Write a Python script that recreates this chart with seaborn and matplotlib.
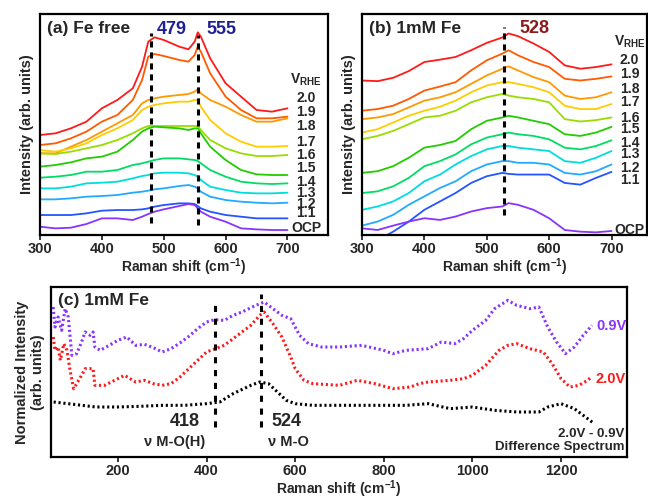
import matplotlib
matplotlib.use("Agg")
import matplotlib.pyplot as plt
import seaborn as sns

# ---- panel (a) Fe free : offset spectra (arb. units)
x_a = [300, 325, 350, 375, 400, 425, 450, 465, 475, 485, 500, 525, 540, 550, 555, 560, 575, 600, 625, 650, 675, 700]
a_20 = [300, 305, 320, 340, 380, 405, 440, 505, 580, 593, 585, 565, 557, 580, 608, 595, 530, 455, 415, 375, 370, 380]
a_19 = [270, 275, 290, 310, 340, 360, 405, 465, 535, 543, 537, 525, 520, 540, 565, 550, 485, 415, 375, 350, 350, 355]
a_18 = [245, 245, 265, 285, 310, 335, 360, 395, 405, 410, 415, 420, 423, 430, 437, 425, 405, 385, 360, 340, 340, 350]
a_17 = [255, 250, 260, 275, 300, 320, 345, 375, 385, 390, 395, 400, 400, 405, 405, 385, 345, 305, 280, 265, 265, 267]
a_16 = [245, 243, 250, 260, 270, 285, 305, 320, 327, 327, 327, 327, 327, 327, 327, 315, 285, 260, 245, 237, 237, 240]
a_15 = [205, 210, 218, 230, 235, 250, 285, 310, 320, 325, 323, 320, 315, 320, 320, 305, 265, 225, 195, 182, 180, 180]
a_14 = [172, 175, 180, 190, 190, 195, 210, 215, 220, 225, 230, 230, 227, 225, 222, 215, 195, 175, 160, 155, 153, 155]
a_13 = [140, 140, 145, 155, 157, 160, 170, 177, 180, 185, 187, 187, 185, 180, 175, 165, 145, 135, 127, 125, 125, 127]
a_12 = [107, 107, 110, 115, 117, 120, 127, 130, 133, 137, 140, 147, 150, 145, 140, 130, 115, 105, 100, 97, 95, 97]
a_11 = [60, 60, 60, 65, 73, 75, 75, 77, 80, 85, 90, 95, 95, 93, 87, 80, 70, 60, 55, 50, 50, 50]
a_ocp = [25, 20, 22, 33, 50, 50, 45, 55, 63, 70, 77, 87, 93, 90, 80, 70, 55, 40, 20, 17, 15, 15]

# ---- panel (b) 1mM Fe
x_b = [300, 325, 350, 375, 400, 425, 450, 475, 500, 525, 535, 550, 575, 600, 625, 650, 675, 700]
b_20 = [460, 458, 468, 488, 515, 522, 530, 550, 572, 588, 600, 592, 570, 545, 505, 495, 500, 508]
b_19 = [370, 375, 385, 405, 430, 442, 455, 490, 520, 540, 550, 535, 515, 500, 465, 460, 465, 472]
b_18 = [345, 350, 360, 380, 400, 410, 425, 450, 475, 495, 502, 490, 470, 455, 415, 405, 410, 425]
b_17 = [305, 315, 335, 355, 370, 382, 400, 425, 445, 455, 455, 450, 440, 425, 385, 375, 375, 390]
b_16 = [285, 295, 310, 330, 350, 355, 370, 395, 410, 420, 415, 410, 405, 395, 345, 338, 342, 350]
b_15 = [185, 190, 205, 230, 260, 268, 280, 315, 340, 350, 355, 350, 340, 330, 300, 295, 305, 322]
b_14 = [125, 130, 145, 170, 205, 220, 240, 270, 290, 300, 305, 300, 295, 285, 260, 255, 265, 282]
b_13 = [75, 85, 100, 125, 160, 180, 210, 235, 255, 265, 265, 260, 255, 250, 220, 215, 230, 250]
b_12 = [28, 40, 60, 90, 115, 140, 160, 190, 210, 220, 220, 215, 215, 210, 185, 180, 190, 210]
x_b11 = [335, 350, 375, 400, 425, 450, 475, 500, 525, 535, 550, 575, 600, 625, 650, 675, 700]
b_11 = [-5, 10, 40, 75, 100, 125, 155, 175, 185, 182, 180, 180, 180, 155, 150, 170, 188]
b_ocp = [20, 15, 28, 40, 50, 45, 55, 70, 80, 85, 95, 90, 75, 50, 15, 10, 8, 12]

labels_v = ["2.0", "1.9", "1.8", "1.7", "1.6", "1.5", "1.4", "1.3", "1.2", "1.1", "OCP"]
colors_v = ["#ff1a1a", "#ff5a00", "#ff9900", "#ffcc00", "#99dd00", "#22cc00",
            "#00dd66", "#00dddd", "#22aaff", "#2255ff", "#8833ff"]

# ---- panel (c) normalized spectra
x_c09 = [54, 58, 65, 73, 81, 88, 96, 107, 118, 126, 137, 144, 148, 160, 180, 200, 220, 240, 260, 280,
         300, 320, 340, 360, 380, 400, 418, 440, 460, 480, 500, 520, 530, 550, 570, 590, 610, 630,
         660, 700, 750, 800, 820, 850, 900, 930, 960, 980, 1000, 1030, 1050, 1080, 1100, 1130,
         1150, 1170, 1190, 1210, 1230, 1250, 1270]
c_09 = [450, 390, 420, 380, 445, 420, 305, 310, 345, 375, 365, 375, 330, 320, 335, 350, 360, 335, 338, 328,
        315, 325, 342, 362, 385, 405, 412, 410, 425, 435, 448, 460, 465, 445, 425, 415, 365, 340,
        330, 330, 335, 320, 310, 320, 325, 345, 340, 355, 380, 410, 445, 470, 455, 445,
        450, 390, 345, 310, 330, 365, 395]
x_c20 = [54, 58, 65, 70, 78, 85, 92, 100, 107, 118, 126, 137, 144, 148, 170, 200, 215, 240, 260, 280,
         300, 320, 340, 360, 380, 400, 420, 440, 460, 480, 500, 520, 530, 550, 570, 590, 600, 620,
         640, 700, 740, 780, 820, 860, 880, 900, 950, 980, 1000, 1030, 1060, 1080, 1100, 1130,
         1160, 1180, 1200, 1220, 1240, 1260, 1270]
c_20 = [360, 320, 330, 290, 340, 320, 260, 205, 220, 245, 265, 265, 265, 215, 215, 235, 245, 225, 230, 220,
        215, 220, 240, 265, 290, 315, 325, 335, 355, 375, 395, 425, 435, 400, 360, 300, 265, 230,
        220, 215, 230, 220, 205, 210, 220, 225, 230, 235, 245, 275, 320, 335, 340, 325,
        315, 280, 235, 210, 215, 230, 242]
x_cd = [55, 100, 150, 200, 250, 300, 350, 400, 430, 460, 500, 520, 540, 560, 580, 600, 640, 700,
        800, 850, 900, 950, 1000, 1050, 1100, 1150, 1170, 1200, 1230, 1260, 1275]
c_diff = [165, 158, 150, 150, 152, 155, 155, 160, 165, 190, 215, 225, 220, 195, 170, 160, 155, 155,
          155, 155, 160, 145, 150, 140, 135, 135, 150, 160, 145, 115, 100]

peaks_a = [479, 555]
peak_b = 528
peaks_c = [418, 524]

sns.set_theme(style="ticks")
plt.rcParams["font.family"] = ["Liberation Sans", "DejaVu Sans"]
plt.rcParams["font.weight"] = "bold"
plt.rcParams["axes.labelweight"] = "bold"
plt.rcParams["mathtext.fontset"] = "custom"
plt.rcParams["mathtext.rm"] = "Liberation Sans:bold"
plt.rcParams["mathtext.bf"] = "Liberation Sans:bold"
plt.rcParams["mathtext.it"] = "Liberation Sans:bold"

fig = plt.figure(figsize=(6.48, 4.99), dpi=100)
ax_a = fig.add_axes([0.0617, 0.529, 0.444, 0.443])
ax_b = fig.add_axes([0.5586, 0.529, 0.44, 0.443])
ax_c = fig.add_axes([0.0787, 0.0842, 0.889, 0.3406])

xlabel = "Raman shift (cm$^{-1}$)"
vrhe = "V$_{RHE}$"


def style(ax):
    for s in ax.spines.values():
        s.set_linewidth(1.6)
        s.set_color("black")
    ax.set_yticks([])
    ax.tick_params(axis="x", direction="out", length=3.5, width=1.3, labelsize=10.5, pad=1.5)
    for t in ax.get_xticklabels():
        t.set_fontweight("bold")
    ax.set_xlabel(xlabel, fontsize=10, fontweight="bold", labelpad=0)


# ---- (a)
series_a = [a_20, a_19, a_18, a_17, a_16, a_15, a_14, a_13, a_12, a_11, a_ocp]
for ys, c in zip(series_a, colors_v):
    sns.lineplot(x=x_a, y=ys, ax=ax_a, color=c, lw=1.3)
ax_a.set_xlim(300, 765)
ax_a.set_ylim(0, 663)
ax_a.set_xticks([300, 400, 500, 600, 700])
ax_a.set_ylabel("Intensity (arb. units)", fontsize=10.5, fontweight="bold", labelpad=4)
style(ax_a)
for p, y0, y1 in zip(peaks_a, [35, 30], [605, 600]):
    ax_a.plot([p, p], [y0, y1], color="black", lw=2.2, ls=(0, (2, 1.6)))
ax_a.text(311, 620, "(a) Fe free", fontsize=12.5, fontweight="bold", va="center")
ax_a.text(513, 617, "479", fontsize=13, fontweight="bold", color="#1f1f99", ha="center", va="center")
ax_a.text(594, 617, "555", fontsize=13, fontweight="bold", color="#1f1f99", ha="center", va="center")
ax_a.text(730, 465, vrhe, fontsize=10, fontweight="bold", ha="center", va="center")
for lab, yy in zip(labels_v, [410, 370, 327, 280, 240, 200, 160, 127, 93, 65, 20]):
    ax_a.text(730, yy, lab, fontsize=10, fontweight="bold", ha="center", va="center")

# ---- (b)
series_b = [b_20, b_19, b_18, b_17, b_16, b_15, b_14, b_13, b_12]
for ys, c in zip(series_b, colors_v[:9]):
    sns.lineplot(x=x_b, y=ys, ax=ax_b, color=c, lw=1.3)
sns.lineplot(x=x_b11, y=b_11, ax=ax_b, color=colors_v[9], lw=1.3)
sns.lineplot(x=x_b, y=b_ocp, ax=ax_b, color=colors_v[10], lw=1.3)
ax_b.set_xlim(300, 757)
ax_b.set_ylim(0, 658)
ax_b.set_xticks([300, 400, 500, 600, 700])
ax_b.set_ylabel("Intensity (arb. units)", fontsize=10.5, fontweight="bold", labelpad=4)
style(ax_b)
ax_b.plot([peak_b, peak_b], [60, 620], color="black", lw=2.2, ls=(0, (2, 1.6)))
ax_b.text(311, 615, "(b) 1mM Fe", fontsize=12.5, fontweight="bold", va="center")
ax_b.text(577, 615, "528", fontsize=13, fontweight="bold", color="#8b1a1a", ha="center", va="center")
ax_b.text(729, 575, vrhe, fontsize=10, fontweight="bold", ha="center", va="center")
for lab, yy in zip(labels_v, [520, 480, 435, 395, 348, 315, 275, 240, 200, 165, 15]):
    ax_b.text(729, yy, lab, fontsize=10, fontweight="bold", ha="center", va="center")

# ---- (c)
dot = (0, (0.7, 0.9))
sns.lineplot(x=x_c09, y=c_09, ax=ax_c, color="#8833ff", lw=2.2, ls=dot, sort=False)
sns.lineplot(x=x_c20, y=c_20, ax=ax_c, color="#ff1a1a", lw=2.2, ls=dot, sort=False)
sns.lineplot(x=x_cd, y=c_diff, ax=ax_c, color="black", lw=2.2, ls=dot, sort=False)
ax_c.set_xlim(49, 1349)
ax_c.set_ylim(0, 510)
ax_c.set_xticks([200, 400, 600, 800, 1000, 1200])
ax_c.set_ylabel("Normalized Intensity\n(arb. units)", fontsize=10.5, fontweight="bold", labelpad=4)
style(ax_c)
for p, y1 in zip(peaks_c, [470, 490]):
    ax_c.plot([p, p], [90, y1], color="black", lw=2.2, ls=(0, (2, 2.2)))
ax_c.text(65, 470, "(c) 1mM Fe", fontsize=12.5, fontweight="bold", va="center")
ax_c.text(351, 105, "418", fontsize=13, fontweight="bold", ha="center", va="center")
ax_c.text(329, 45, "ν M-O(H)", fontsize=10.5, fontweight="bold", ha="center", va="center")
ax_c.text(581, 105, "524", fontsize=13, fontweight="bold", ha="center", va="center")
ax_c.text(584, 45, "ν M-O", fontsize=10.5, fontweight="bold", ha="center", va="center")
ax_c.text(1313, 392, "0.9V", fontsize=10.5, fontweight="bold", color="#8833ff", ha="center", va="center")
ax_c.text(1313, 235, "2.0V", fontsize=10.5, fontweight="bold", color="#ff1a1a", ha="center", va="center")
ax_c.text(1344, 70, "2.0V - 0.9V", fontsize=9.5, fontweight="bold", ha="right", va="center")
ax_c.text(1344, 30, "Difference Spectrum", fontsize=9.5, fontweight="bold", ha="right", va="center")

fig.savefig("out.png", dpi=100)
